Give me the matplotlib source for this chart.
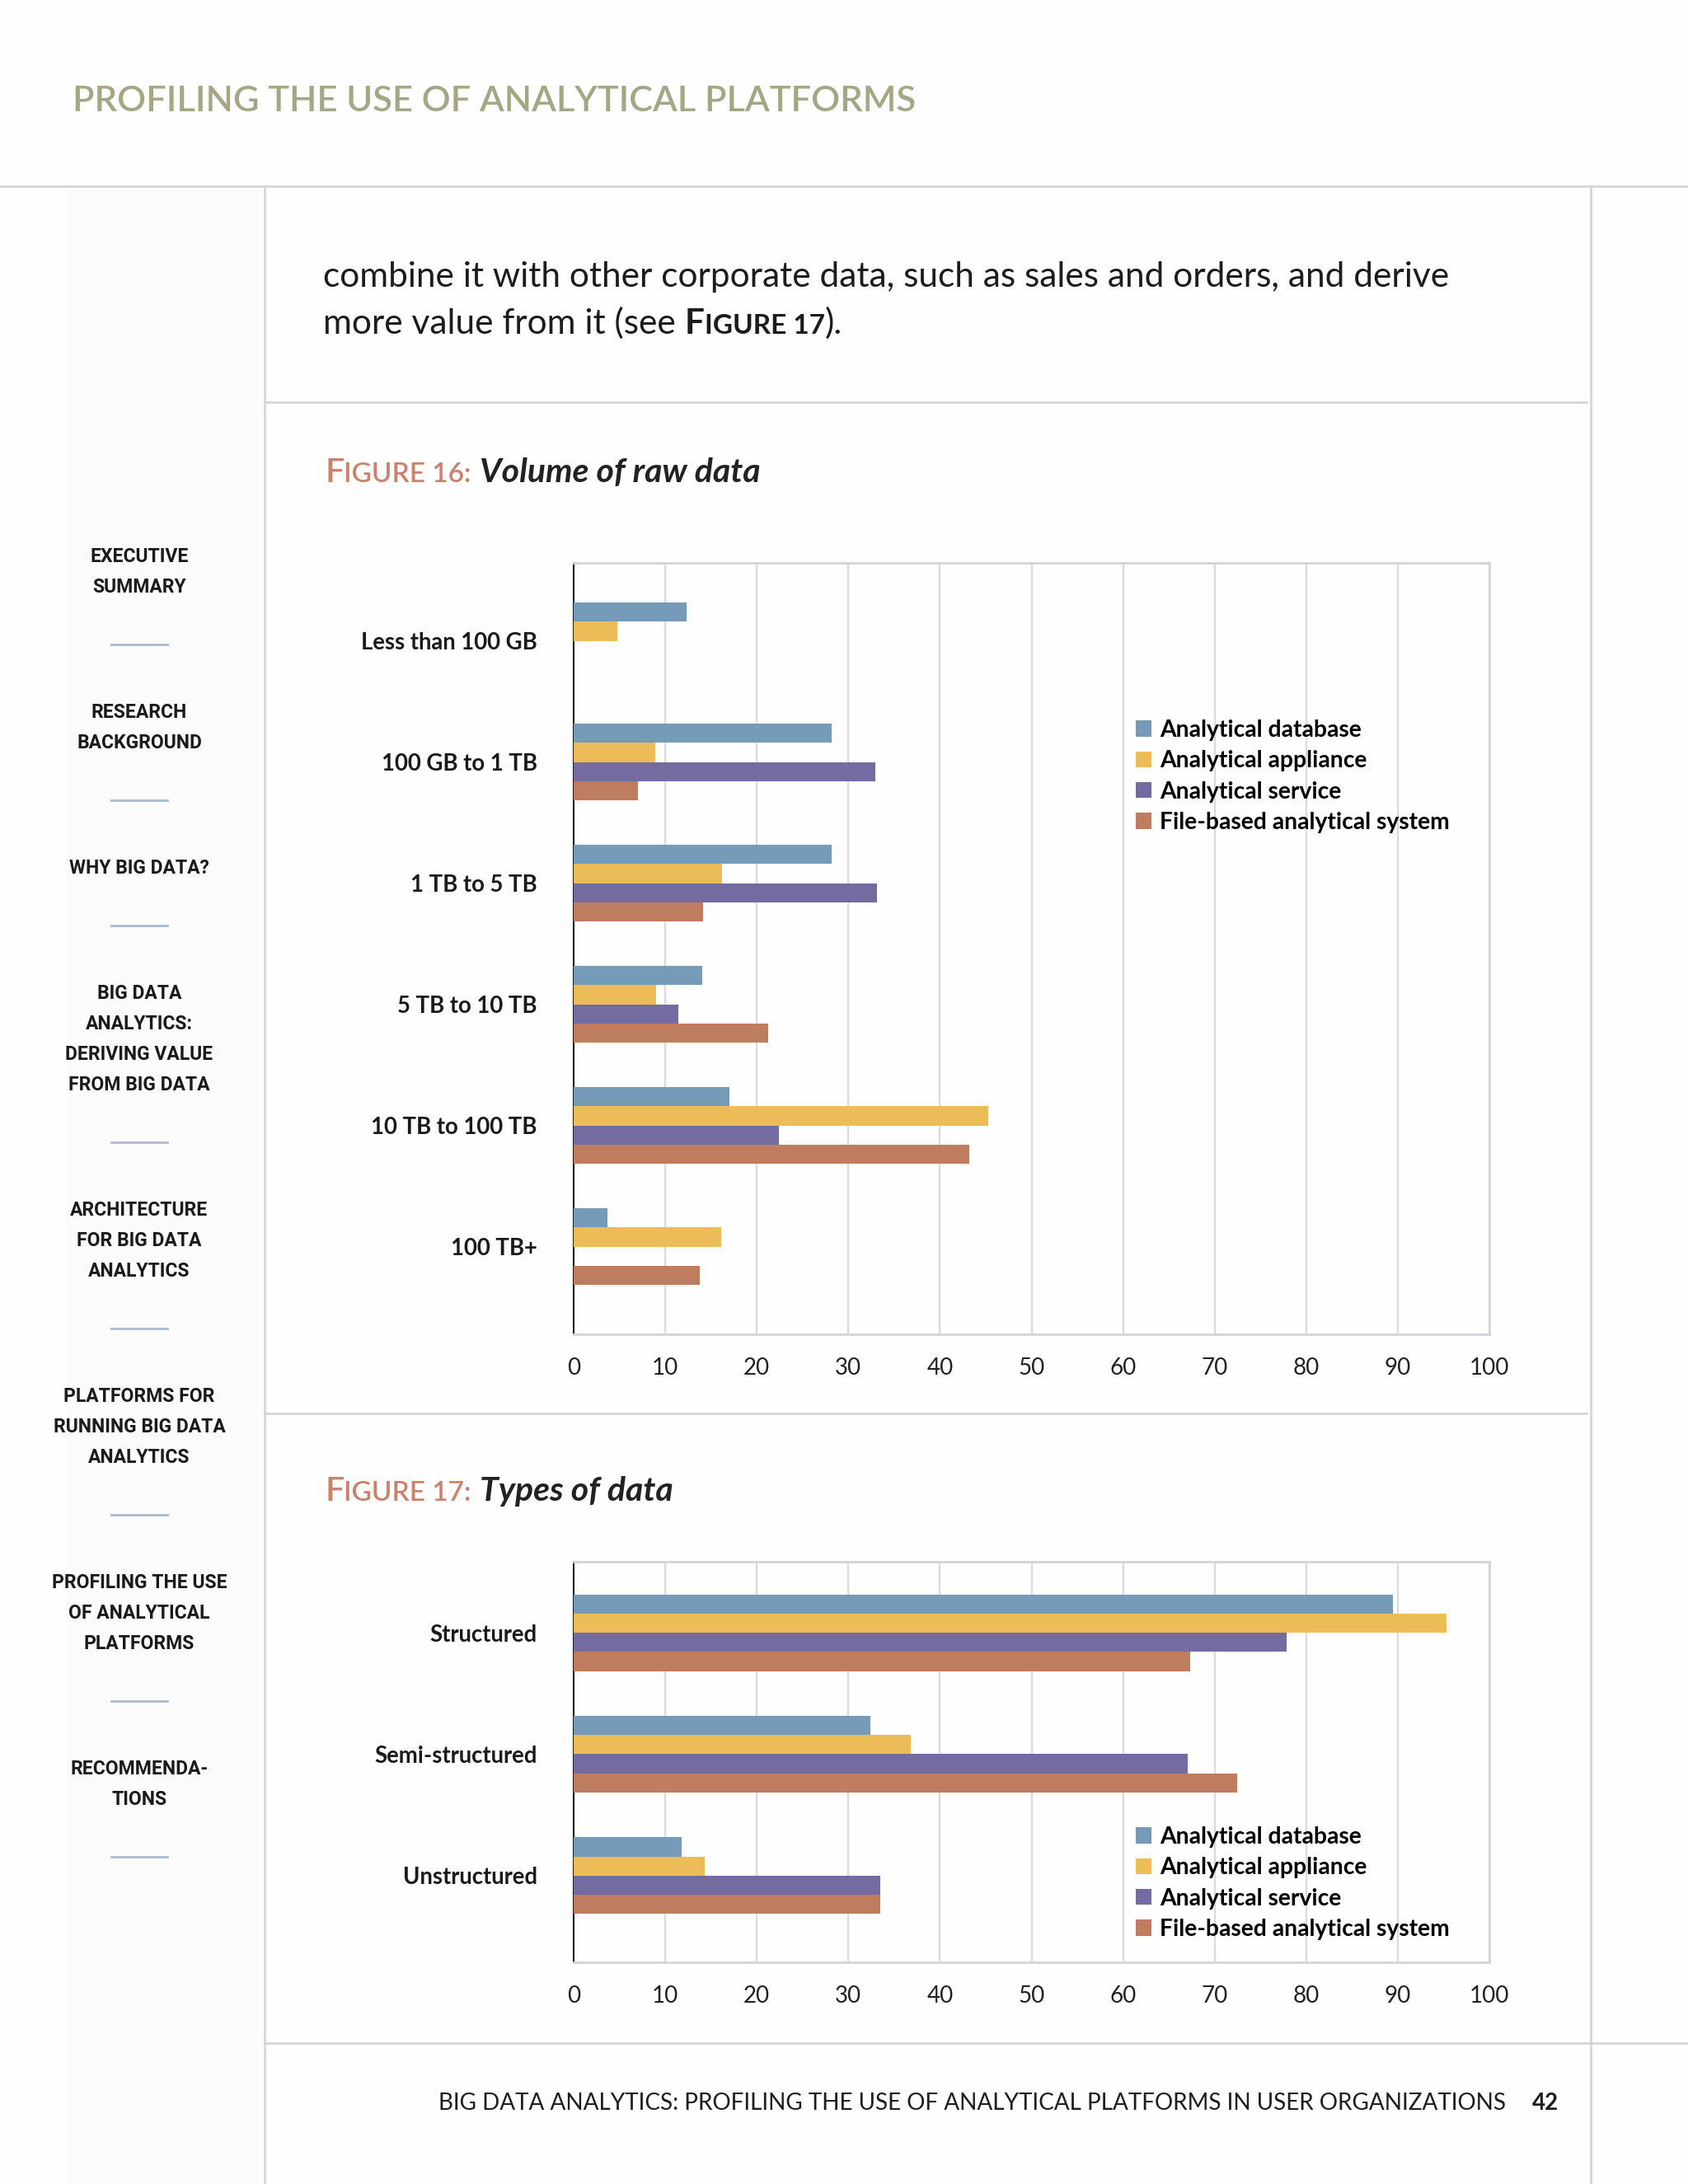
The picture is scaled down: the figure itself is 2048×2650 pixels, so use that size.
import matplotlib
matplotlib.use('Agg')
import matplotlib.pyplot as plt
from matplotlib import font_manager
import numpy as np

W, H = 2048, 2650

# data
series = ['Analytical database', 'Analytical appliance', 'Analytical service',
          'File-based analytical system']
colors = ['#769bb8', '#ebbc58', '#746ca1', '#bf7d60']

volume_cats = ['Less than 100 GB', '100 GB to 1 TB', '1 TB to 5 TB',
               '5 TB to 10 TB', '10 TB to 100 TB', '100 TB+']
volume_db = [12.3, 28.2, 28.2, 14.0, 17.0, 3.7]
volume_appliance = [4.8, 8.9, 16.2, 9.0, 45.3, 16.1]
volume_service = [0, 32.9, 33.1, 11.4, 22.4, 0]
volume_file = [0, 7.0, 14.1, 21.2, 43.2, 13.8]

types_cats = ['Structured', 'Semi-structured', 'Unstructured']
types_db = [89.5, 32.4, 11.8]
types_appliance = [95.3, 36.8, 14.3]
types_service = [77.9, 67.1, 33.5]
types_file = [67.3, 72.5, 33.5]

x_ticks = [0, 10, 20, 30, 40, 50, 60, 70, 80, 90, 100]

sidebar_items = ['EXECUTIVE\nSUMMARY', 'RESEARCH\nBACKGROUND', 'WHY BIG DATA?',
                 'BIG DATA\nANALYTICS:\nDERIVING VALUE\nFROM BIG DATA',
                 'ARCHITECTURE\nFOR BIG DATA\nANALYTICS',
                 'PLATFORMS FOR\nRUNNING BIG DATA\nANALYTICS',
                 'PROFILING THE USE\nOF ANALYTICAL\nPLATFORMS',
                 'RECOMMENDA-\nTIONS']

installed = {f.name for f in font_manager.fontManager.ttflist}
NARROW = 'Liberation Sans Narrow' if 'Liberation Sans Narrow' in installed else 'Roboto'
MAIN = ['Lato', 'DejaVu Sans']
plt.rcParams['font.family'] = MAIN

fig = plt.figure(figsize=(W / 100, H / 100), dpi=100)
fig.patch.set_facecolor('#fefefe')
r = fig.canvas.get_renderer()


def fx(x):
    return x / W


def fy(y):
    return 1 - y / H


def hline(y, x0, x1, color='#d6d6da', lw=2):
    fig.add_artist(plt.Line2D([fx(x0), fx(x1)], [fy(y), fy(y)], color=color, lw=lw))


def vline(x, y0, y1, color='#d6d6da', lw=2):
    fig.add_artist(plt.Line2D([fx(x), fx(x)], [fy(y0), fy(y1)], color=color, lw=lw))


def run_text(x, y, parts):
    # write pieces one after the other on the same baseline
    for s, kw in parts:
        t = fig.text(fx(x), fy(y), s, va='baseline', ha='left', **kw)
        x += t.get_window_extent(renderer=r).width
    return x


# sidebar background
fig.add_artist(plt.Rectangle((fx(80), 0), fx(241), fy(226), color='#fbfbfc', zorder=0))

# page frame lines
hline(226, 0, W)
vline(321, 226, H)
vline(1930, 226, H)
hline(488, 321, 1925)
hline(1715, 321, 1925)
hline(2479, 321, W)

# header
fig.text(fx(88), fy(135), 'PROFILING THE USE OF ANALYTICAL PLATFORMS', color='#a5a683',
         fontsize=31.2, fontweight='semibold', va='baseline')

# body text
ink = '#1c1c1c'
fig.text(fx(392), fy(348), 'combine it with other corporate data, such as sales and orders, and derive',
         color=ink, fontsize=30.5, va='baseline')
x = run_text(392, 405, [('more value from it (see ', dict(color=ink, fontsize=30.5))])
x = run_text(x, 405, [('F', dict(color=ink, fontsize=30.5, fontweight='bold')),
                      ('IGURE 17', dict(color=ink, fontsize=24, fontweight='bold')),
                      (').', dict(color=ink, fontsize=30.5))])

# figure titles
salmon = '#c9826c'
for ytitle, num, name in [(585, '16:', 'Volume of raw data'), (1821, '17:', 'Types of data')]:
    x = run_text(394, ytitle, [('F', dict(color=salmon, fontsize=29.5, fontweight='semibold')),
                               ('IGURE ' + num, dict(color=salmon, fontsize=24, fontweight='semibold'))])
    run_text(x + 10, ytitle, [(name, dict(color='#222222', fontsize=29.5, fontweight='bold',
                                          style='italic'))])

# sidebar menu
y = 682
for item in sidebar_items:
    lines = item.split('\n')
    for i, ln in enumerate(lines):
        fig.text(fx(169), fy(y + 37 * i), ln, ha='center', va='baseline', color='#1a1a1a',
                 fontsize=16.5, fontweight='bold', family=[NARROW, 'DejaVu Sans'])
    sep = y + 37 * (len(lines) - 1) + 71
    hline(sep - 8, 135, 203, color='#a9bbcf', lw=2)
    y = sep + 81

# footer
fig.text(fx(1827), fy(2560), 'BIG DATA ANALYTICS: PROFILING THE USE OF ANALYTICAL PLATFORMS IN USER ORGANIZATIONS',
         ha='right', va='baseline', color='#1e1e1e', fontsize=20.1)
fig.text(fx(1859), fy(2560), '42', ha='left', va='baseline', color='#1e1e1e', fontsize=20,
         fontweight='bold')


def bar_chart(rect, cats, vals, ylim, legend_top):
    ax = fig.add_axes(rect)
    ax.set_facecolor('none')
    n = len(cats)
    pos = np.arange(n)
    h = 0.158
    for k, (v, c, lab) in enumerate(zip(vals, colors, series)):
        ax.barh(pos + (k - 1.5) * h, v, height=h, color=c, label=lab, zorder=3)
    ax.set_xlim(0, 100)
    ax.set_ylim(*ylim)
    ax.set_xticks(x_ticks)
    ax.set_xticklabels([str(t) for t in x_ticks], fontsize=20, color='#222222')
    ax.set_yticks(pos)
    ax.set_yticklabels(cats, fontsize=19.8, fontweight='bold', color='#1a1a1a')
    ax.tick_params(axis='both', length=0)
    ax.tick_params(axis='y', pad=32)
    ax.tick_params(axis='x', pad=20)
    ax.xaxis.grid(True, color='#d9d9de', lw=1.6, zorder=0)
    ax.set_axisbelow(True)
    for s in ['top', 'right', 'bottom']:
        ax.spines[s].set_color('#d3d3d8')
        ax.spines[s].set_linewidth(2)
    ax.spines['left'].set_color('#222222')
    ax.spines['left'].set_linewidth(1.5)
    ax.legend(loc='upper left', bbox_to_anchor=(fx(1378), fy(legend_top)),
              bbox_transform=fig.transFigure, frameon=False,
              prop=dict(weight='bold', size=20.3), handlelength=0.68, handleheight=0.68,
              handletextpad=0.35, labelspacing=0.4, borderpad=0, borderaxespad=0)
    return ax


bar_chart([fx(696), fy(1619), fx(1807 - 696), (1619 - 683) / H], volume_cats,
          [volume_db, volume_appliance, volume_service, volume_file], (5.724, -0.644), 873)
bar_chart([fx(696), fy(2381), fx(1807 - 696), (2381 - 1895) / H], types_cats,
          [types_db, types_appliance, types_service, types_file], (2.714, -0.585), 2216)

fig.savefig('out.png', dpi=100, facecolor=fig.get_facecolor())
